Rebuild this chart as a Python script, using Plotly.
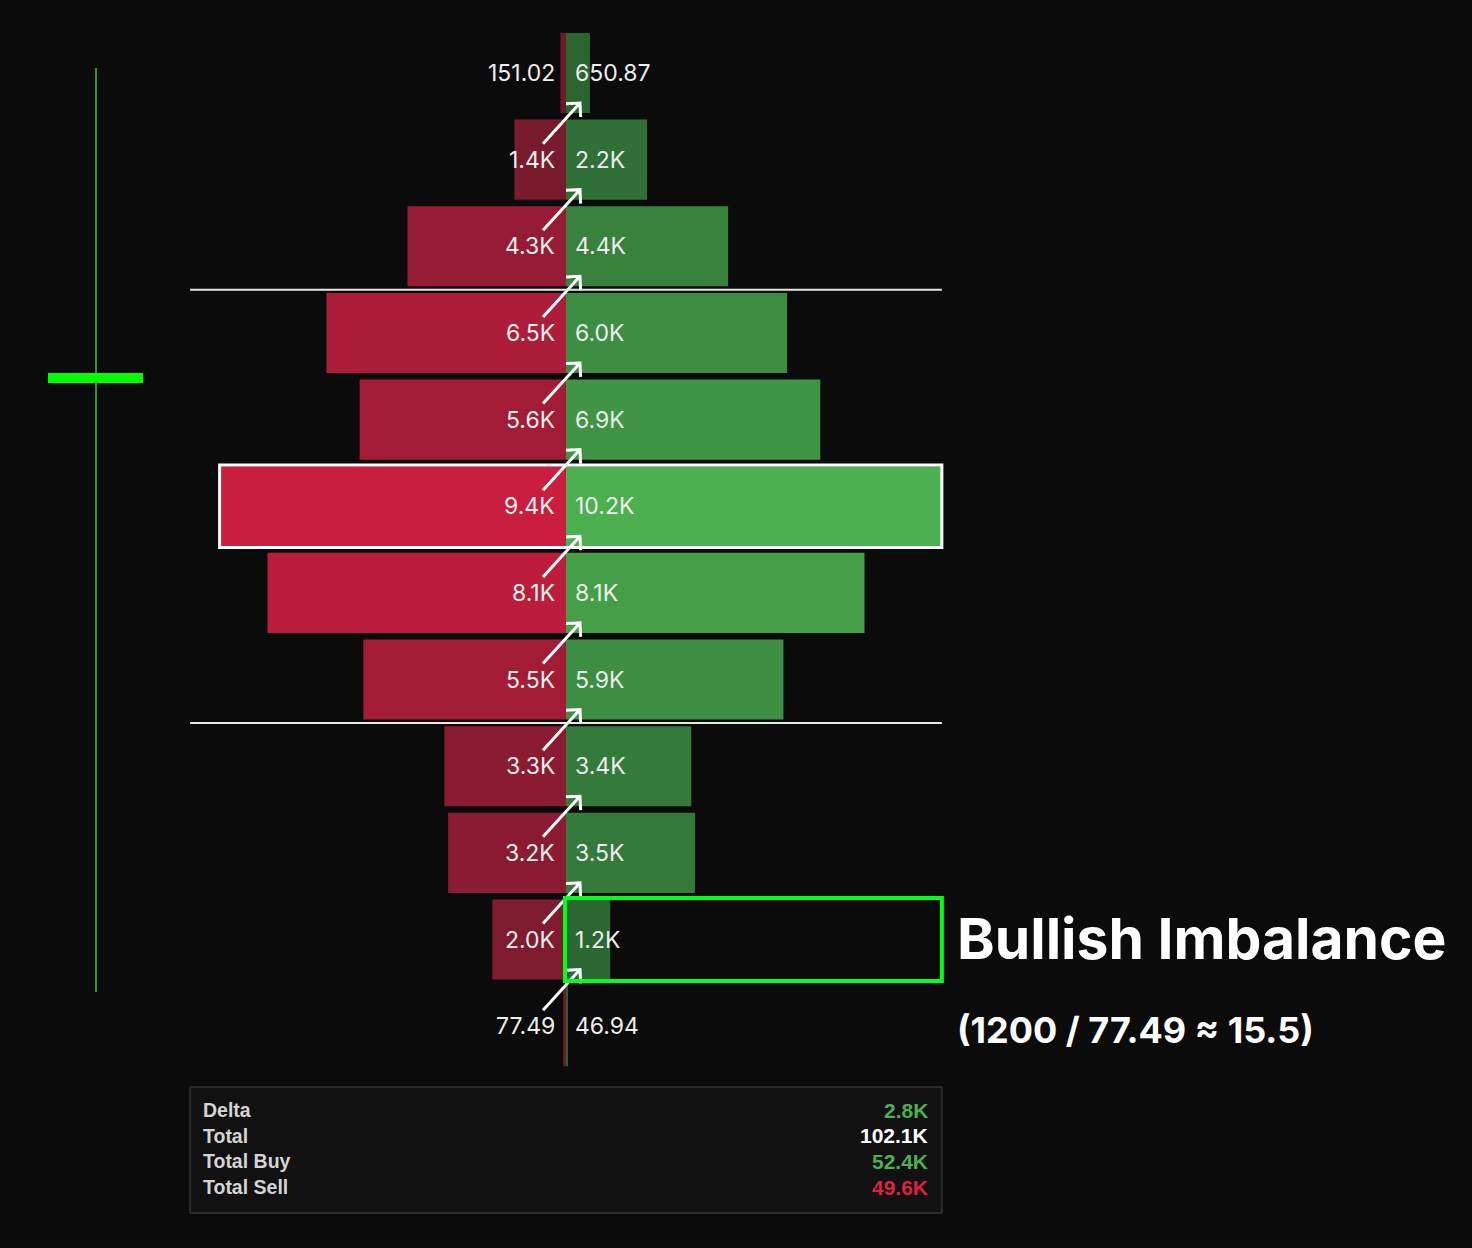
import math
import plotly.graph_objects as go

# footprint rows, top (highest price) to bottom
rows = list(range(12))
sell_volume = [151.02, 1400, 4300, 6500, 5600, 9400, 8100, 5500, 3300, 3200, 2000, 77.49]
buy_volume = [650.87, 2200, 4400, 6000, 6900, 10200, 8100, 5900, 3400, 3500, 1200, 46.94]

summary_labels = ["Delta", "Total", "Total Buy", "Total Sell"]
summary_values = ["2.8K", "102.1K", "52.4K", "49.6K"]
summary_colors = ["#4caf50", "#ffffff", "#4caf50", "#dc2147"]

value_area_edges = [2.5, 7.5]   # VAH / VAL between rows
poc_row = 5
imbalance_row = 10

# page geometry
W, H = 1472, 1248
ZERO_PX = 566          # pixel column of zero volume
PX_PER_VOL = 0.03685   # pixels per unit of volume
ROW0_PX = 73           # pixel centre of first row
ROW_PX = 86.65         # pixel pitch between rows
BAR_W = 0.924


def vx(px):
    return (px - ZERO_PX) / PX_PER_VOL


def ry(py):
    return (py - ROW0_PX) / ROW_PX


def fmt(v):
    return f"{v:.2f}" if v < 1000 else f"{v / 1000:.1f}K"


fig = go.Figure()

fig.add_trace(go.Bar(
    y=rows, x=[-v for v in sell_volume], orientation="h", width=BAR_W,
    marker=dict(color=sell_volume, colorscale=[[0, "#6a1a2a"], [1, "#c91e3f"]],
                cmin=0, cmax=max(sell_volume), line_width=0),
    hoverinfo="skip",
))
fig.add_trace(go.Bar(
    y=rows, x=buy_volume, orientation="h", width=BAR_W,
    marker=dict(color=buy_volume, colorscale=[[0, "#285f2f"], [1, "#4caf50"]],
                cmin=0, cmax=max(buy_volume), line_width=0),
    hoverinfo="skip",
))

annotations = []
label_font = dict(family="Inter", size=23, color="#eeeeee")
for r, s, b in zip(rows, sell_volume, buy_volume):
    annotations.append(dict(x=0, y=r, text=fmt(s), showarrow=False, xanchor="right",
                            xshift=-9, font=label_font))
    annotations.append(dict(x=0, y=r, text=fmt(b), showarrow=False, xanchor="left",
                            xshift=7, font=label_font))

shapes = []

# diagonal imbalance arrows (sell of lower row vs buy of row above)
for r in rows[:-1]:
    hx, hy = ZERO_PX + 14, ROW0_PX + ROW_PX * r + 30
    tx, ty = ZERO_PX - 23, ROW0_PX + ROW_PX * (r + 1) - 16
    d = math.hypot(tx - hx, ty - hy)
    bx, by = (tx - hx) / d, (ty - hy) / d
    wings = []
    for a in (math.pi / 4, -math.pi / 4):
        wx = hx + 14 * (bx * math.cos(a) - by * math.sin(a))
        wy = hy + 14 * (bx * math.sin(a) + by * math.cos(a))
        wings.append((wx, wy))
    path = (f"M{vx(tx)},{ry(ty)} L{vx(hx)},{ry(hy)} "
            f"M{vx(wings[0][0])},{ry(wings[0][1])} L{vx(hx)},{ry(hy)} "
            f"L{vx(wings[1][0])},{ry(wings[1][1])}")
    shapes.append(dict(type="path", path=path, line=dict(color="white", width=3)))

# value area lines
for e in value_area_edges:
    shapes.append(dict(type="line", x0=-max(buy_volume), x1=max(buy_volume), y0=e, y1=e,
                       line=dict(color="#e6e6e6", width=2)))

# point of control box
shapes.append(dict(type="rect", x0=-sell_volume[poc_row], x1=buy_volume[poc_row],
                   y0=poc_row - 0.475, y1=poc_row + 0.475,
                   line=dict(color="white", width=3)))

# bullish imbalance box
shapes.append(dict(type="rect", x0=vx(565), x1=max(buy_volume),
                   y0=imbalance_row - 0.48, y1=imbalance_row + 0.48,
                   line=dict(color="#00ff1a", width=4)))

# summary panel
shapes.append(dict(type="rect", x0=-max(buy_volume), x1=max(buy_volume),
                   y0=ry(1087), y1=ry(1213), fillcolor="#111111",
                   line=dict(color="#333333", width=1.5), layer="below"))
for i, (lab, val, col) in enumerate(zip(summary_labels, summary_values, summary_colors)):
    yy = ry(1110 + 25.7 * i)
    annotations.append(dict(x=vx(201), y=yy, text=lab, showarrow=False, xanchor="left",
                            font=dict(family="Liberation Sans", size=19.5, color="#d4d4d4",
                                      weight="bold")))
    annotations.append(dict(x=vx(930), y=yy, text=val, showarrow=False, xanchor="right",
                            font=dict(family="Liberation Sans", size=21, color=col,
                                      weight="bold")))

# candle on the left
shapes.append(dict(type="line", x0=vx(96), x1=vx(96), y0=ry(68), y1=ry(992),
                   line=dict(color="#3a8f3a", width=2)))
shapes.append(dict(type="rect", x0=vx(48), x1=vx(143), y0=ry(373), y1=ry(383),
                   fillcolor="#00ff00", line_width=0))

annotations.append(dict(x=vx(955), y=ry(938), text="Bullish Imbalance", showarrow=False,
                        xanchor="left", font=dict(family="Inter", size=57, color="white",
                                                  weight="bold")))
annotations.append(dict(x=vx(955), y=ry(1030), text="(1200 / 77.49 ≈ 15.5)", showarrow=False,
                        xanchor="left", font=dict(family="Inter", size=36, color="white",
                                                  weight="bold")))

fig.update_layout(
    width=W, height=H,
    margin=dict(l=0, r=0, t=0, b=0),
    paper_bgcolor="#0b0b0b", plot_bgcolor="#0b0b0b",
    barmode="overlay", showlegend=False,
    xaxis=dict(range=[vx(0), vx(W)], visible=False, fixedrange=True),
    yaxis=dict(range=[ry(H), ry(0)], visible=False, fixedrange=True),
    shapes=shapes, annotations=annotations,
)

fig.write_html("out.html", config={"displayModeBar": False},
               post_script="document.body.style.margin='0';"
                           "document.body.style.background='#0b0b0b';")
